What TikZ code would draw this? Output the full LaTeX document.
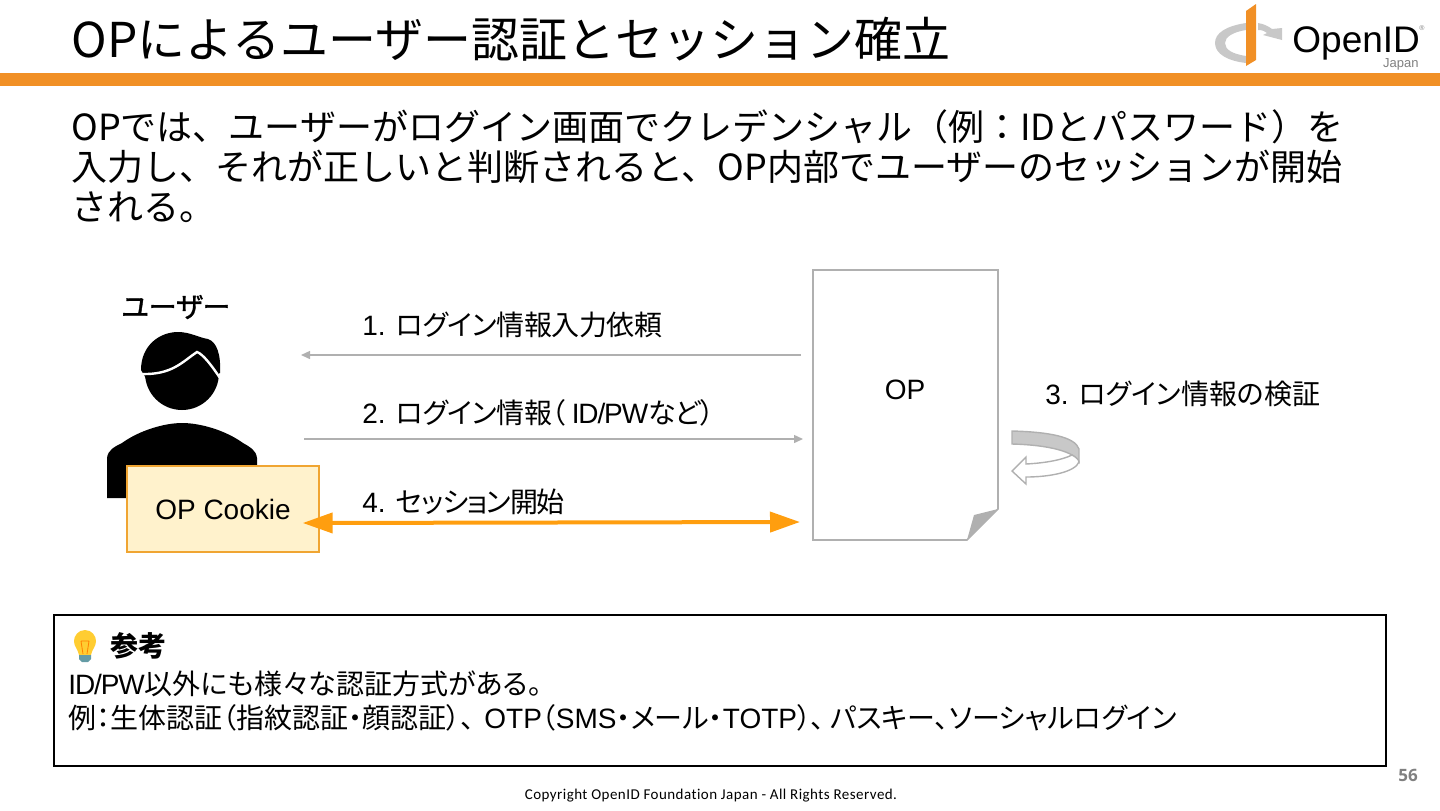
\documentclass[tikz,border=0pt]{standalone}
\usepackage{fontspec}
\setmainfont[RawFeature=+palt]{Noto Sans CJK JP}
\newfontfamily\fixjp{Noto Sans CJK JP}
\newfontfamily\heavyjp[RawFeature=+palt,FakeBold=1.4]{Noto Sans CJK JP}
\newfontfamily\lat{Liberation Sans}
\newfontfamily\latn[LetterSpace=-4]{Liberation Sans}
\newfontfamily\foot[LetterSpace=3,RawFeature=-liga]{Carlito}
\newfontfamily\pageft{Open Sans}
\usetikzlibrary{arrows.meta}
\newcommand{\la}[1]{{\lat #1}}
\newcommand{\lan}[1]{{\latn #1}}
\tikzset{
    lbl/.style={anchor=west, inner sep=0pt, font=\fontsize{14}{16}\selectfont},
    thinarrow/.style={draw=linegrey, line width=0.7pt, -{Triangle[length=4.5pt,width=4pt]}},
}
\begin{document}
\begin{tikzpicture}[x=0.5pt,y=-0.5pt]
        \definecolor{linegrey}{RGB}{176,176,176}
        \definecolor{barorange}{RGB}{241,144,38}
        \definecolor{tiporange}{RGB}{255,158,15}
        \definecolor{boxfill}{RGB}{255,242,204}
        \definecolor{boxline}{RGB}{240,165,50}
        \definecolor{logogrey}{RGB}{200,200,200}
        \definecolor{bulbyellow}{RGB}{255,205,50}
        \definecolor{bulbbase}{RGB}{100,155,165}
        \useasboundingbox (0,0) rectangle (1440,810);

        % header
        \node [anchor=west, inner sep=0pt, font=\fontsize{24}{28}\fixjp] (title) at (71,39) {OPによるユーザー認証とセッション確立};
        \fill [barorange] (0,73) rectangle (1440,86);

        % logo
        \fill [logogrey] (1246,23) .. controls (1226,26) and (1215,33) .. (1215,43) .. controls (1215,54) and (1228,61) .. (1246,63) -- (1246,56) .. controls (1233,54) and (1225,50) .. (1225,43) .. controls (1225,37) and (1233,32) .. (1246,30) -- cycle;
        \fill [logogrey] (1258,23) .. controls (1264,24) and (1268,26) .. (1272,29) -- (1282,28) -- (1282,40) -- (1263,35) -- (1267,33) .. controls (1265,31) and (1262,30) .. (1258,30) -- cycle;
        \fill [barorange] (1246,11) -- (1256,4) -- (1256,60) -- (1246,66) -- cycle;
        \node [anchor=west, inner sep=0pt, font=\fontsize{18.5}{20}\lat] (openid) at (1292,43) {OpenID};
        \node [anchor=east, inner sep=0pt, text=gray, font=\fontsize{6.5}{7}\lat] (japan) at (1419,64) {Japan};
        \node [inner sep=0pt, text=gray, font=\fontsize{3.5}{4}\lat] (regmark) at (1422,28) {®};

        % lead text
        \node [anchor=north west, inner sep=0pt, align=left, font=\fontsize{18}{20}\fixjp] (lead) at (71,109)
            {OPでは、ユーザーがログイン画面でクレデンシャル（例：IDとパスワード）を\\
             入力し、それが正しいと判断されると、OP内部でユーザーのセッションが開始\\
             される。};

        % user
        \node [inner sep=0pt, font=\fontsize{14}{16}\heavyjp] (user) at (176,307) {ユーザー};
        \fill (182,373) circle [radius=37];
        \fill (141,370) .. controls (141,345) and (160,332) .. (178,332) .. controls (190,332) and (200,338) .. (208,339) .. controls (217,342) and (221,355) .. (220,373) -- (200,380) -- (150,385) -- cycle;
        \draw [white, line width=1.2pt] (141,374) .. controls (172,375) and (182,362) .. (197,352) .. controls (203,354) and (212,366) .. (220,378);
        \fill (107,498) -- (107,458) .. controls (108,450) and (114,447) .. (122,443) .. controls (140,430) and (165,423) .. (182,423) .. controls (200,423) and (225,430) .. (243,443) .. controls (250,447) and (256,450) .. (257,458) -- (257,498) -- cycle;
        \node [draw=boxline, fill=boxfill, line width=0.7pt, minimum width=96pt, minimum height=43pt, inner sep=0pt, font=\fontsize{14}{16}\lat] (cookie) at (223,509) {OP Cookie};

        % OP
        \draw [linegrey, line width=0.8pt] (813,270) -- (998,270) -- (998,509) -- (967,540) -- (813,540) -- cycle;
        \fill [linegrey] (998,509) -- (974,515) -- (967,540) -- cycle;
        \node [inner sep=0pt, font=\fontsize{14}{16}\lat] (op) at (905,390) {OP};

        \coordinate (reqfrom) at (801,355);
        \coordinate (reqto) at (301,355);
        \coordinate (sendfrom) at (304,439);
        \coordinate (sendto) at (803,439);
        \coordinate (sessend) at (800,522);

        \draw [thinarrow] (reqfrom) -- (reqto);
        \draw [thinarrow] (sendfrom) -- (sendto);
        \draw [tiporange, line width=2pt, {Triangle[length=15pt,width=10pt]}-{Triangle[length=15pt,width=10pt]}] ([xshift=-8.5pt,yshift=-7pt]cookie.east) -- (sessend);

        \node [lbl] (step1) at (362,325) {\la{1. }\addfontfeature{LetterSpace=-1.5}ログイン情報入力依頼};
        \node [lbl] (step2) at (362,413) {\la{2. }\addfontfeature{LetterSpace=-1.5}ログイン情報（\hspace{3pt}\lan{ID/PW}など）};
        \node [lbl] (step3) at (1045,394) {\la{3. }ログイン情報の検証};
        \node [lbl] (step4) at (362,502) {\la{4. }\addfontfeature{LetterSpace=-4.5}セッション開始};

        % turn arrow
        \filldraw [draw=linegrey, fill=logogrey, line width=0.7pt] (1012,431) .. controls (1050,432) and (1075,437) .. (1079,449) -- (1079,462) .. controls (1075,452) and (1050,445) .. (1012,444) -- cycle;
        \draw [linegrey, fill=white, line width=0.7pt] (1012,471) -- (1026,457) -- (1026,464) .. controls (1045,463) and (1062,460) .. (1072,455) .. controls (1076,457) and (1079,460) .. (1079,462) .. controls (1075,472) and (1050,477) .. (1026,477) -- (1026,484) -- cycle;

        % note
        \draw [line width=0.8pt] (54,615) rectangle (1386,766);
        \fill [bulbyellow] (85,630) .. controls (92,630) and (96,636) .. (96,641) .. controls (96,647) and (92,649) .. (91,655) -- (79,655) .. controls (78,649) and (74,647) .. (74,641) .. controls (74,636) and (78,630) .. (85,630) -- cycle;
        \draw [orange, line width=0.4pt] (81,641) -- (83,654) (89,641) -- (87,654) (81,641) -- (89,641);
        \fill [bulbbase] (79,655) -- (91,655) -- (91,659) -- (88,662) -- (82,662) -- (79,659) -- cycle;
        \node [anchor=west, inner sep=0pt, font=\fontsize{14}{16}\bfseries] (refhead) at (110,646) {参考};
        \node [lbl] (ref1) at (68,684) {\lan{ID/PW}以外にも様々な認証方式がある。};
        \node [lbl] (ref2) at (68,718) {例：生体認証（指紋認証・顔認証）、\hspace{5pt}\la{OTP}（\la{SMS}・メール・\la{TOTP}）、\hspace{2.5pt}パスキー、ソーシャルログイン};

        % footer
        \node [text=gray, font=\fontsize{8.5}{10}\pageft\bfseries] (pageno) at (1408,775) {56};
        \node [font=\fontsize{7.5}{8}\foot] (copyright) at (711,796) {Copyright OpenID Foundation Japan - All Rights Reserved.};
    \end{tikzpicture}
\end{document}
